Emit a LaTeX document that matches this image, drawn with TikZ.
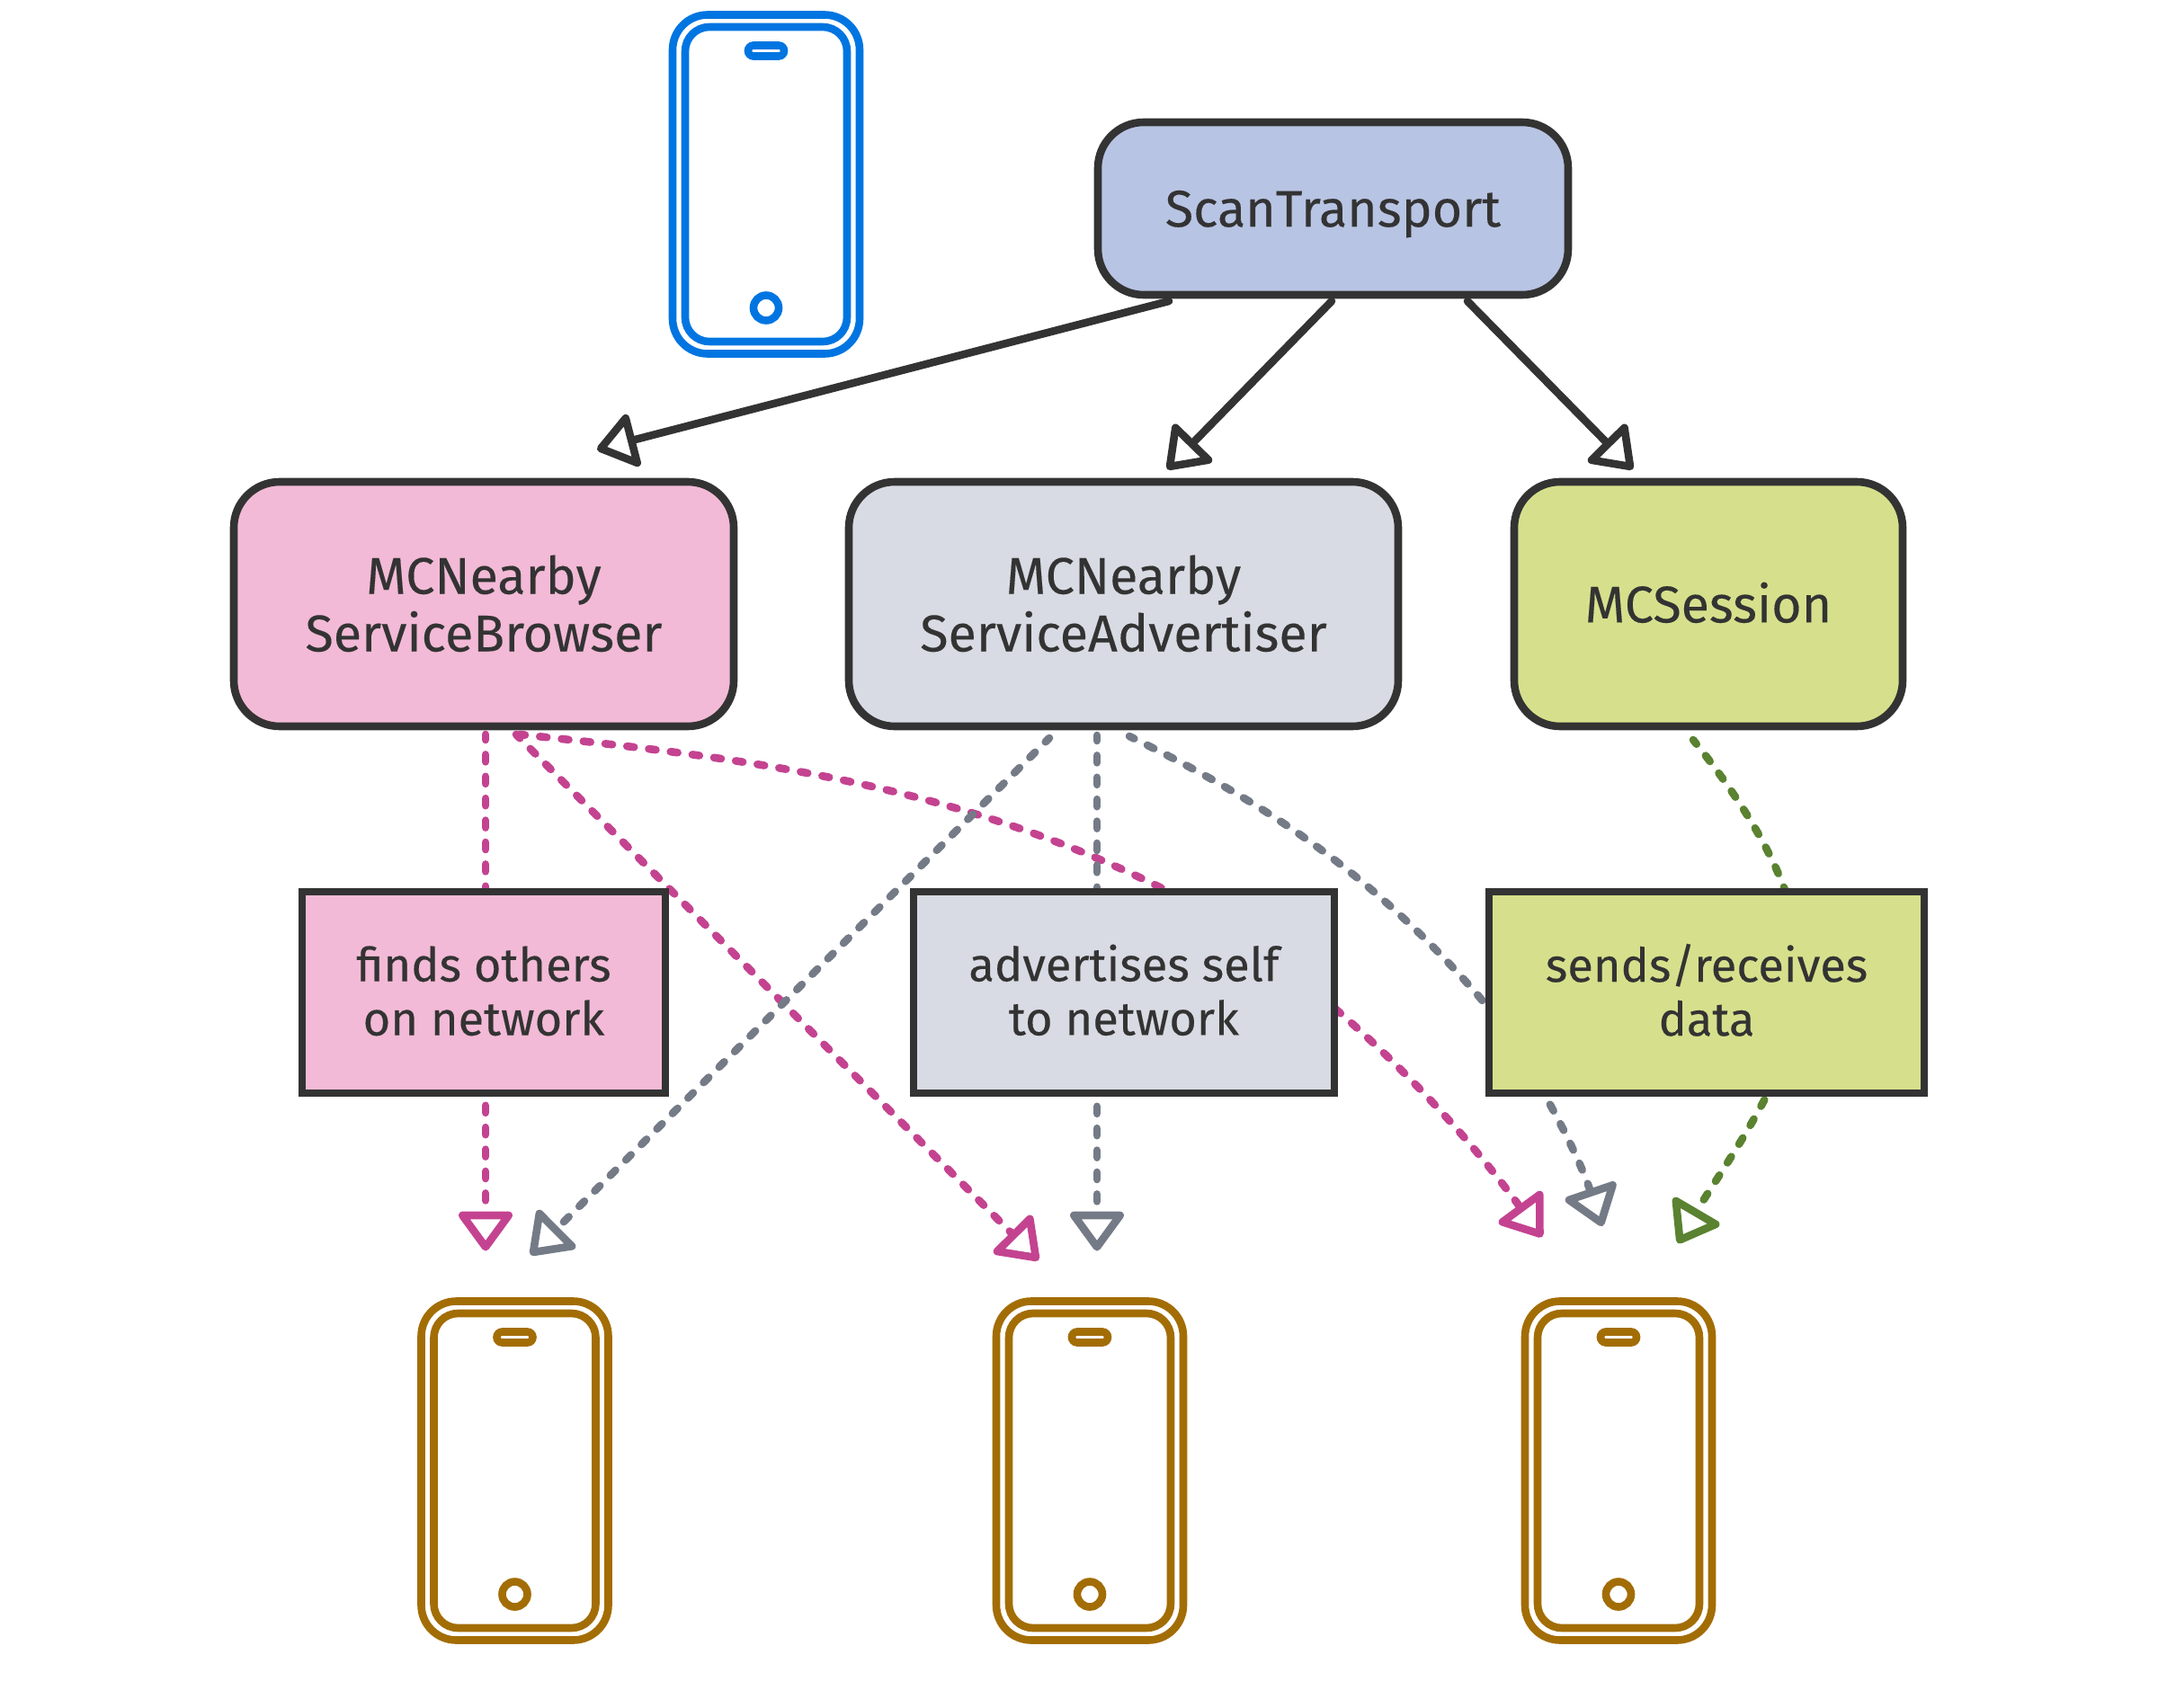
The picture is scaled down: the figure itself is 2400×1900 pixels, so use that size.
\documentclass[tikz,border=0pt]{standalone}
\usepackage{fontspec}
\setmainfont[FakeBold=0.2]{Fira Sans}
\usetikzlibrary{arrows.meta}
\pgfdeclarelayer{edges}
\pgfsetlayers{edges,main}
\definecolor{ink}{HTML}{333333}
\definecolor{fillscan}{HTML}{B8C4E3}
\definecolor{fillpink}{HTML}{F2BAD6}
\definecolor{fillgrey}{HTML}{D8DBE3}
\definecolor{fillgreen}{HTML}{D6E08C}
\definecolor{linepink}{HTML}{C44390}
\definecolor{linegrey}{HTML}{747B87}
\definecolor{linegreen}{HTML}{5A8230}
\definecolor{phoneblue}{HTML}{0075E1}
\definecolor{phonegold}{HTML}{A36D05}
\tikzset{
  boxbase/.style={draw=ink,line width=4.3pt,inner sep=0pt,outer sep=0pt,text=ink,align=center},
  roundbox/.style={boxbase,rounded corners=25.5pt,text depth=1pt,font=\fontsize{28.7}{32}\selectfont},
  plainbox/.style={boxbase,text depth=2pt,font=\fontsize{26.2}{30}\selectfont},
  phonepart/.style={line width=4.3pt,inner sep=0pt,outer sep=0pt,fill=none},
  edgebase/.style={line width=4.3pt,line cap=round,-{Triangle[open,round,length=23.5pt,width=33pt]}},
  solidedge/.style={edgebase,draw=ink},
  dashedge/.style={edgebase,dash pattern=on 4pt off 8.2pt,dash phase=1pt},
  pinkedge/.style={dashedge,draw=linepink},
  greyedge/.style={dashedge,draw=linegrey},
  greenedge/.style={dashedge,draw=linegreen},
}
\newcommand{\phonedevice}[4]{%
  \begin{scope}[shift={(#2,#3)}]
    \node[phonepart,draw=#4,minimum width=104pt,minimum height=188.5pt,rounded corners=19.5pt] (#1) at (0,0) {};
    \node[phonepart,draw=#4,minimum width=90pt,minimum height=175pt,rounded corners=13.5pt] (#1-screen) at (0,0) {};
    \node[phonepart,draw=#4,minimum width=20pt,minimum height=6pt,rounded corners=3pt] (#1-speaker) at (0,-148.5) {};
    \node[phonepart,draw=#4,circle,minimum size=14pt] (#1-button) at (0,137.5) {};
  \end{scope}}
\begin{document}
\begin{tikzpicture}[x=0.5pt,y=-0.5pt]
\useasboundingbox (0,0) rectangle (2400,1900);
\phonedevice{self}{852}{205}{phoneblue}
\phonedevice{peerA}{572.5}{1636}{phonegold}
\phonedevice{peerB}{1212}{1636}{phonegold}
\phonedevice{peerC}{1800}{1636}{phonegold}
\node[roundbox,text depth=0pt,fill=fillscan,minimum width=261.5pt,minimum height=96pt] (scan) at (1482.5,232) {ScanTransport};
\node[roundbox,fill=fillpink,minimum width=278pt,minimum height=136pt] (browser) at (538,672) {MCNearby\\ServiceBrowser};
\node[roundbox,fill=fillgrey,minimum width=305.5pt,minimum height=136pt] (advert) at (1249.5,672) {MCNearby\\ServiceAdvertiser};
\node[roundbox,text depth=2pt,fill=fillgreen,minimum width=216pt,minimum height=136pt] (session) at (1900,672) {MCSession};
\node[plainbox,fill=fillpink,minimum width=202pt,minimum height=112pt] (finds) at (538,1104) {finds others\\on network};
\node[plainbox,text depth=3pt,fill=fillgrey,minimum width=234pt,minimum height=112pt] (adself) at (1250,1104) {advertises self\\to network};
\node[plainbox,text depth=3pt,fill=fillgreen,minimum width=242pt,minimum height=112pt] (sends) at (1898,1104) {sends/receives\\data};
% connector ends
\coordinate (s1) at (1300,335); \coordinate (t1) at (664,500);
\coordinate (s2) at (1481,335); \coordinate (t2) at (1298,522);
\coordinate (s3) at (1632,335); \coordinate (t3) at (1816,522);
\coordinate (bA) at (540,817);  \coordinate (eA) at (540,1391.5);
\coordinate (bB) at (574,817);  \coordinate (eB) at (1155,1402);
\coordinate (bC) at (578,817);  \coordinate (eC) at (1715,1376);
\coordinate (aA) at (1167,821); \coordinate (fA) at (590,1396);
\coordinate (aB) at (1220,818); \coordinate (fB) at (1220,1391.5);
\coordinate (aC) at (1256,819); \coordinate (fC) at (1782,1364);
\coordinate (gS) at (1883,823); \coordinate (gE) at (1866,1383);
\begin{pgfonlayer}{edges}
\fill[white] (0,0) rectangle (2400,1900);
\draw[solidedge] (s1) -- (t1);
\draw[solidedge] (s2) -- (t2);
\draw[solidedge] (s3) -- (t3);
\draw[pinkedge] (bA) -- (eA);
\draw[pinkedge] (bB) -- (eB);
\draw[pinkedge] (bC) .. controls (815,842) and (1053,869) .. (1290,987) .. controls (1430,1057) and (1590,1206) .. (eC);
\draw[greyedge] (aA) -- (fA);
\draw[greyedge] (aB) -- (fB);
\draw[greyedge] (aC) .. controls (1380,880) and (1510,955) .. (1640,1103) .. controls (1690,1160) and (1750,1270) .. (fC);
\draw[greenedge] (gS) .. controls (1925,875) and (1965,935) .. (1985,990) .. controls (2015,1075) and (1990,1170) .. (1962,1224) .. controls (1935,1275) and (1900,1325) .. (gE);
\end{pgfonlayer}
\end{tikzpicture}
\end{document}
